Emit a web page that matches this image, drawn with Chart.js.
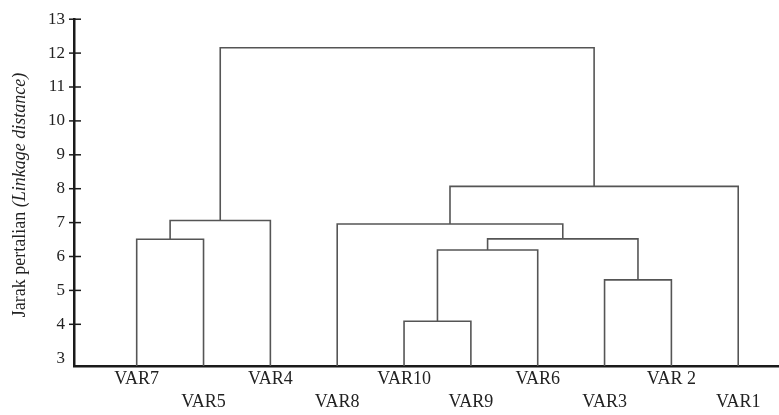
<!DOCTYPE html>
<html lang="en">
<head>
    <meta charset="UTF-8">
    <title>Dendrogram - Jarak pertalian</title>
    <style>
        body {
            margin: 0;
            background: #ffffff;
        }
        .chart-box {
            position: relative;
            width: 779px;
            height: 415px;
        }
    </style>
</head>
<body>
    <div class="chart-box">
        <canvas id="dendroChart"></canvas>
    </div>
    <script src="https://cdn.jsdelivr.net/npm/chart.js"></script>
    <script>
        // leaves in the order they sit on the axis
        const leafLabels = ['VAR7', 'VAR5', 'VAR4', 'VAR8', 'VAR10', 'VAR9', 'VAR6', 'VAR3', 'VAR 2', 'VAR1'];

        // linkage steps: node ids 0-9 are leaves, every merge makes node 10, 11, ...
        const mergeLeft   = [4, 7, 10, 0, 12, 3, 13, 15, 16];
        const mergeRight  = [5, 8, 6, 1, 11, 14, 2, 9, 17];
        const mergeHeight = [4.09, 5.31, 6.19, 6.51, 6.52, 6.96, 7.06, 8.07, 12.16];

        const yTickValues = [3, 4, 5, 6, 7, 8, 9, 10, 11, 12, 13];
        const yTickLabels = ['3', '4', '5', '6', '7', '8', '9', '10', '11', '12', '13'];

        const yMin = 2.77;
        const yMax = 13;
        const lineColor = '#555555';
        const axisColor = '#1a1a1a';

        // position of each node (leaf index for leaves, midpoint of children for merges)
        const nodeX = leafLabels.map((_, i) => i);
        const nodeY = leafLabels.map(() => yMin);
        const datasets = [];
        mergeLeft.forEach((l, k) => {
            const r = mergeRight[k];
            const h = mergeHeight[k];
            datasets.push({
                data: [
                    { x: nodeX[l], y: nodeY[l] },
                    { x: nodeX[l], y: h },
                    { x: nodeX[r], y: h },
                    { x: nodeX[r], y: nodeY[r] }
                ],
                borderColor: lineColor,
                borderWidth: 1.6,
                pointRadius: 0,
                tension: 0,
                fill: false
            });
            nodeX.push((nodeX[l] + nodeX[r]) / 2);
            nodeY.push(h);
        });

        // tick marks on the y axis cross the axis line, and the title mixes roman and italic
        const axisExtras = {
            id: 'axisExtras',
            afterDraw(chart) {
                const ctx = chart.ctx;
                const y = chart.scales.y;
                const ax = chart.chartArea.left;
                ctx.save();
                ctx.strokeStyle = axisColor;
                ctx.lineWidth = 1.5;
                yTickValues.forEach(v => {
                    if (v === 3) return;
                    const py = y.getPixelForValue(v);
                    ctx.beginPath();
                    ctx.moveTo(ax - 5, py);
                    ctx.lineTo(ax + 7, py);
                    ctx.stroke();
                });

                const part1 = 'Jarak pertalian ';
                const part2 = '(Linkage distance)';
                const fontA = '18px "Liberation Serif", serif';
                const fontB = 'italic 18px "Liberation Serif", serif';
                ctx.font = fontA;
                const w1 = ctx.measureText(part1).width;
                ctx.font = fontB;
                const w2 = ctx.measureText(part2).width;
                ctx.translate(20, 195);
                ctx.rotate(-Math.PI / 2);
                ctx.fillStyle = '#222222';
                ctx.textBaseline = 'middle';
                ctx.textAlign = 'left';
                ctx.font = fontA;
                ctx.fillText(part1, -(w1 + w2) / 2, 0);
                ctx.font = fontB;
                ctx.fillText(part2, -(w1 + w2) / 2 + w1, 0);
                ctx.restore();
            }
        };

        const ctx = document.getElementById('dendroChart').getContext('2d');
        new Chart(ctx, {
            type: 'line',
            data: { datasets: datasets },
            options: {
                responsive: true,
                maintainAspectRatio: false,
                animation: false,
                layout: { padding: { top: 16, right: 0, left: 0, bottom: 0 } },
                plugins: {
                    legend: { display: false },
                    tooltip: { enabled: false }
                },
                scales: {
                    x: {
                        type: 'linear',
                        min: -0.938,
                        max: 9.61,
                        grid: { display: false, drawTicks: false },
                        border: { display: true, color: axisColor, width: 2.5 },
                        afterBuildTicks: scale => {
                            scale.ticks = leafLabels.map((_, i) => ({ value: i }));
                        },
                        afterFit: scale => { scale.height = 49; },
                        ticks: {
                            autoSkip: false,
                            maxRotation: 0,
                            padding: 2,
                            color: '#222222',
                            font: { family: '"Liberation Serif", serif', size: 18, lineHeight: 1.26 },
                            callback: (value, index) => index % 2 ? ['', leafLabels[index]] : leafLabels[index]
                        }
                    },
                    y: {
                        min: yMin,
                        max: yMax,
                        grid: { display: false, drawTicks: false },
                        border: { display: true, color: axisColor, width: 2.5 },
                        afterBuildTicks: scale => {
                            scale.ticks = yTickValues.map(v => ({ value: v }));
                        },
                        afterFit: scale => { scale.width = 74; },
                        ticks: {
                            padding: 9,
                            color: '#222222',
                            font: { family: '"Liberation Serif", serif', size: 17 },
                            callback: (value, index) => yTickLabels[index]
                        }
                    }
                }
            },
            plugins: [axisExtras]
        });
    </script>
</body>
</html>
